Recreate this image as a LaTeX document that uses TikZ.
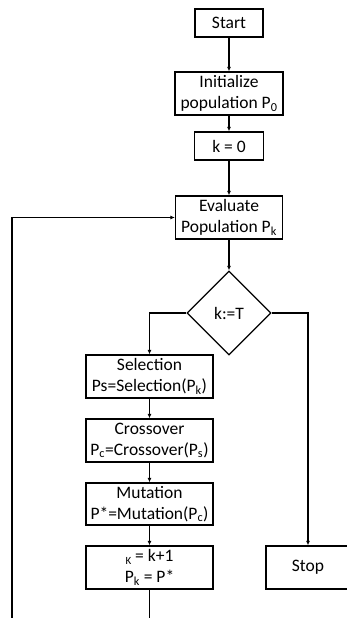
\documentclass[tikz,border=0pt]{standalone}
\usepackage{fontspec}
\setmainfont{Carlito}
\usetikzlibrary{shapes.geometric,arrows.meta}
\newcommand{\sbs}[1]{\textsubscript{#1}}
\begin{document}
\begin{tikzpicture}[x=1pt,y=-1pt,
  font=\fontsize{17.5}{21}\selectfont,
  every node/.style={inner sep=0pt},
  box/.style={draw, line width=1.3pt, align=center, minimum height=43pt},
  dec/.style={draw, line width=1.3pt, diamond, minimum width=84pt, minimum height=84pt},
  conn/.style={draw, line width=1.3pt, -{Latex[length=4.5pt,width=4pt]}},
  wire/.style={draw, line width=1.3pt}]
\useasboundingbox (0,0) rectangle (347,618);

% main column
\node[box, minimum width=68pt, minimum height=28pt] (start) at (229,23) {Start};
\node[box, minimum width=108pt] (init) at (229,93.5) {Initialize\\population P\sbs{0}};
\node[box, minimum width=69pt, minimum height=28pt] (kzero) at (229,146) {k = 0};
\node[box, minimum width=107pt] (eval) at (229,217.5) {Evaluate\\Population P\sbs{k}};
\node[dec] (test) at (229,313) {k:=T};

% loop body
\node[box, minimum width=127pt] (sel) at (149.5,376.5) {Selection\\Ps=Selection(P\sbs{k})};
\node[box, minimum width=127pt] (cross) at (149.5,440.5) {Crossover\\P\sbs{c}=Crossover(P\sbs{s})};
\node[box, minimum width=127pt, minimum height=42pt] (mut) at (149.5,504) {Mutation\\P*=Mutation(P\sbs{c})};
\node[box, minimum width=127pt] (upd) at (149.5,567.5) {\raisebox{-2.5pt}{\fontsize{11}{11}\selectfont K} = k+1\\P\sbs{k} = P*};

% exit
\node[box, minimum width=84pt] (stop) at (308,567.5) {Stop};

% connectors
\path[conn] (start) -- (init);
\path[conn] (init) -- (kzero);
\path[conn] (kzero) -- (eval);
\path[conn] (eval) -- (test);
\path[conn] (test.west) -| (sel.north);
\path[conn] (test.east) -| (stop.north);
\path[conn] (sel) -- (cross);
\path[conn] (cross) -- (mut);
\path[conn] (mut) -- (upd);

% feedback loop back to evaluation
\coordinate (lowright) at (149.5,630);
\coordinate (lowleft) at (12,630);
\path[conn] (upd.south) -- (lowright) -- (lowleft) |- (eval.west);
\end{tikzpicture}
\end{document}
